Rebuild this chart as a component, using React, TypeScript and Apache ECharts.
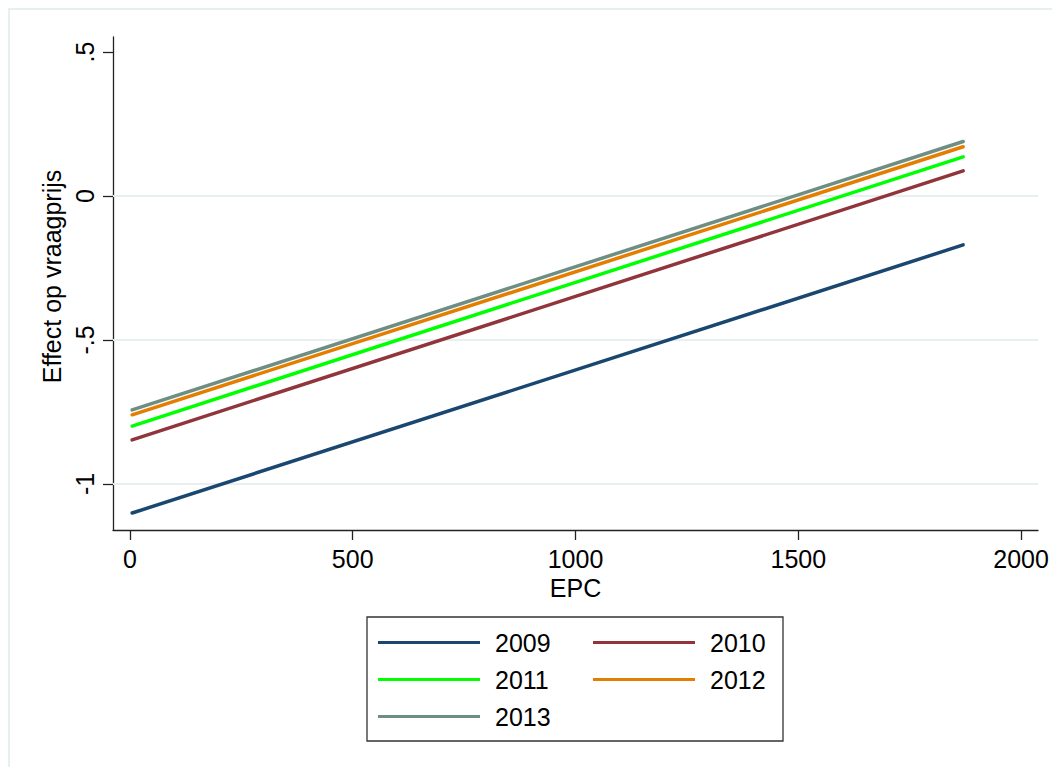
import React, { useEffect, useRef } from "react";
import * as echarts from "echarts";

// EPC range covered by each fitted line
const epc = [5, 1870];

const years = ["2009", "2010", "2011", "2012", "2013"];

// Predicted effect on asking price at both ends of the EPC range
const effect2009 = [-1.101, -0.17];
const effect2010 = [-0.847, 0.087];
const effect2011 = [-0.799, 0.136];
const effect2012 = [-0.76, 0.171];
const effect2013 = [-0.743, 0.189];

const yearColors = ["#1a476f", "#90353b", "#00ff00", "#e37e00", "#6e8e84"];

const xRange = [-38, 2038];
const yRange = [-1.16, 0.552];
const xTicks = [0, 500, 1000, 1500, 2000];
const yTicks = [-1, -0.5, 0, 0.5];
const yTickLabels = ["-1", "-.5", "0", ".5"];
const gridValues = [-1, -0.5, 0];

const FONT = "Liberation Sans, Arial, Helvetica, sans-serif";

export default function App() {
  const ref = useRef<HTMLDivElement>(null);

  useEffect(() => {
    if (!ref.current) return;
    const chart = echarts.init(ref.current, undefined, { renderer: "svg" });
    const effects = [effect2009, effect2010, effect2011, effect2012, effect2013];
    const axisColor = "#222";

    // horizontal reference lines across the full plot width, kept beneath the fits
    const gridSeries = gridValues.map((v) => ({
      type: "line",
      name: "grid" + v,
      data: xRange.map((x) => [x, v]),
      symbol: "none",
      silent: true,
      z: 1,
      lineStyle: { width: 2, color: "#e8eff0" },
    }));

    const lineSeries = years.map((y, i) => ({
      type: "line",
      name: y,
      data: epc.map((x, j) => [x, effects[i][j]]),
      symbol: "none",
      z: 3,
      lineStyle: { width: 3.5, color: yearColors[i], cap: "round" },
      itemStyle: { color: yearColors[i] },
    }));

    const legendCommon = {
      orient: "vertical",
      top: 630,
      padding: 0,
      itemGap: 12,
      itemWidth: 102,
      itemHeight: 3,
      icon: "rect",
      selectedMode: false,
      textStyle: {
        fontSize: 25,
        fontFamily: FONT,
        color: "#000",
        lineHeight: 25,
        padding: [0, 0, 0, 10],
      },
    };

    chart.setOption({
      animation: false,
      backgroundColor: "#fff",
      grid: { left: 113, top: 37, right: 14, bottom: 237, containLabel: false },
      xAxis: {
        type: "value",
        min: xRange[0],
        max: xRange[1],
        name: "EPC",
        nameLocation: "middle",
        nameGap: 43,
        nameTextStyle: { fontSize: 25, fontFamily: FONT, color: "#000" },
        axisLine: { show: true, onZero: false, lineStyle: { color: axisColor, width: 1.3 } },
        axisTick: {
          show: true,
          length: 10,
          customValues: xTicks,
          lineStyle: { color: axisColor, width: 1.3 },
        },
        axisLabel: {
          customValues: xTicks,
          fontSize: 25,
          fontFamily: FONT,
          color: "#000",
          margin: 16,
          formatter: (v: number) => String(v),
        },
        splitLine: { show: false },
      },
      yAxis: {
        type: "value",
        min: yRange[0],
        max: yRange[1],
        name: "Effect op vraagprijs",
        nameLocation: "middle",
        nameGap: 46,
        nameTextStyle: {
          fontSize: 25,
          fontFamily: FONT,
          color: "#000",
          padding: [0, 0, 0, 14],
        },
        axisLine: { show: true, onZero: false, lineStyle: { color: axisColor, width: 1.3 } },
        axisTick: {
          show: true,
          length: 10,
          customValues: yTicks,
          lineStyle: { color: axisColor, width: 1.3 },
        },
        axisLabel: {
          customValues: yTicks,
          rotate: 90,
          fontSize: 25,
          fontFamily: FONT,
          color: "#000",
          margin: 16,
          formatter: (v: number) => {
            const k = yTicks.findIndex((t) => Math.abs(t - v) < 1e-9);
            return k >= 0 ? yTickLabels[k] : "";
          },
        },
        splitLine: { show: false },
      },
      legend: [
        { ...legendCommon, left: 378, data: ["2009", "2011", "2013"] },
        { ...legendCommon, left: 593, data: ["2010", "2012"] },
      ],
      graphic: [
        {
          type: "rect",
          silent: true,
          shape: { x: 9, y: 9, width: 1200, height: 900 },
          style: { fill: "none", stroke: "#e8eff0", lineWidth: 2 },
        },
        {
          type: "rect",
          silent: true,
          shape: { x: 367, y: 617, width: 416, height: 124 },
          style: { fill: "none", stroke: "#333", lineWidth: 1.3 },
        },
      ],
      series: [...gridSeries, ...lineSeries],
    });

    return () => chart.dispose();
  }, []);

  return (
    <div
      ref={ref}
      style={{ position: "fixed", left: 0, top: 0, width: 1052, height: 767, background: "#fff" }}
    />
  );
}
